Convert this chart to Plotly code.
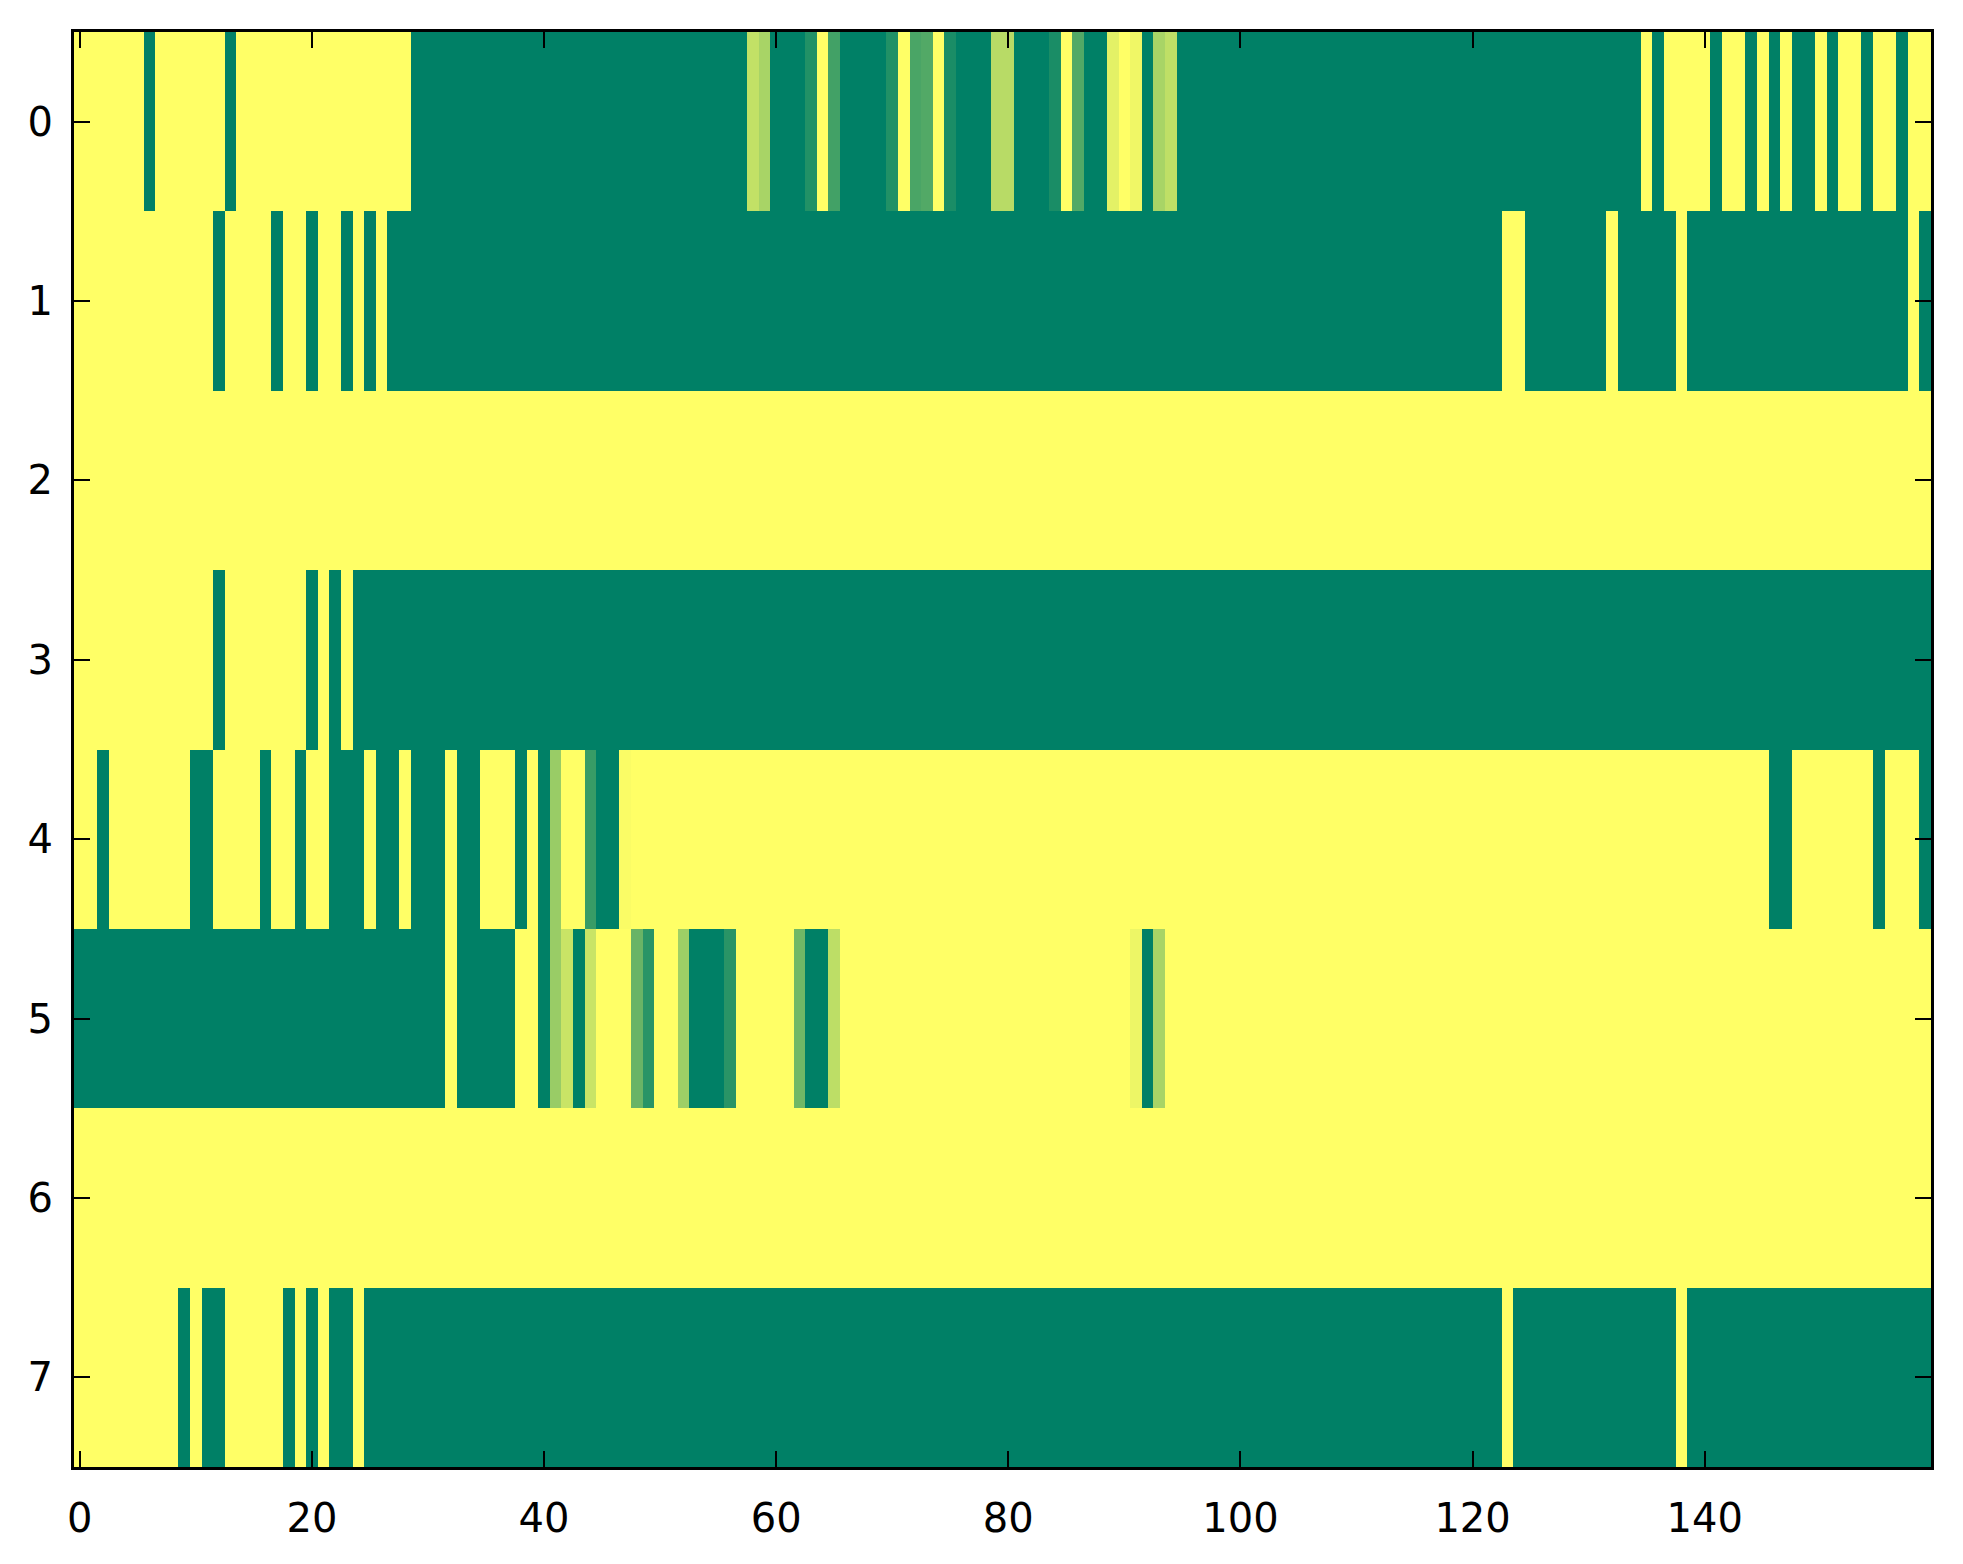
import plotly.graph_objects as go

# one list per row of the matrix, 160 columns each (0 = green, 1 = yellow)
row0 = [1, 1, 1, 1, 1, 1, 0, 1, 1, 1, 1, 1, 1, 0, 1, 1, 1, 1, 1, 1,
        1, 1, 1, 1, 1, 1, 1, 1, 1, 0, 0, 0, 0, 0, 0, 0, 0, 0, 0, 0,
        0, 0, 0, 0, 0, 0, 0, 0, 0, 0, 0, 0, 0, 0, 0, 0, 0, 0, 0.76, 0.66,
        0, 0, 0, 0.13, 1, 0.26, 0, 0, 0, 0, 0.13, 1, 0.29, 0.32, 1, 0.1, 0, 0, 0, 0.72,
        0.72, 0, 0, 0, 0.1, 1, 0.32, 0, 0, 0.89, 1, 0.94, 0, 0.66, 0.75, 0, 0, 0, 0, 0,
        0, 0, 0, 0, 0, 0, 0, 0, 0, 0, 0, 0, 0, 0, 0, 0, 0, 0, 0, 0,
        0, 0, 0, 0, 0, 0, 0, 0, 0, 0, 0, 0, 0, 0, 0, 1, 0, 1, 1, 1,
        1, 0, 1, 1, 0, 1, 0, 1, 0, 0, 1, 0, 1, 1, 0, 1, 1, 0, 1, 1]

row1 = [1, 1, 1, 1, 1, 1, 1, 1, 1, 1, 1, 1, 0, 1, 1, 1, 1, 0, 1, 1,
        0, 1, 1, 0, 1, 0, 1, 0, 0, 0, 0, 0, 0, 0, 0, 0, 0, 0, 0, 0,
        0, 0, 0, 0, 0, 0, 0, 0, 0, 0, 0, 0, 0, 0, 0, 0, 0, 0, 0, 0,
        0, 0, 0, 0, 0, 0, 0, 0, 0, 0, 0, 0, 0, 0, 0, 0, 0, 0, 0, 0,
        0, 0, 0, 0, 0, 0, 0, 0, 0, 0, 0, 0, 0, 0, 0, 0, 0, 0, 0, 0,
        0, 0, 0, 0, 0, 0, 0, 0, 0, 0, 0, 0, 0, 0, 0, 0, 0, 0, 0, 0,
        0, 0, 0, 1, 1, 0, 0, 0, 0, 0, 0, 0, 1, 0, 0, 0, 0, 0, 1, 0,
        0, 0, 0, 0, 0, 0, 0, 0, 0, 0, 0, 0, 0, 0, 0, 0, 0, 0, 1, 0]

row2 = [1] * 160

row3 = [1, 1, 1, 1, 1, 1, 1, 1, 1, 1, 1, 1, 0, 1, 1, 1, 1, 1, 1, 1,
        0, 1, 0, 1, 0, 0, 0, 0, 0, 0, 0, 0, 0, 0, 0, 0, 0, 0, 0, 0,
        0, 0, 0, 0, 0, 0, 0, 0, 0, 0, 0, 0, 0, 0, 0, 0, 0, 0, 0, 0,
        0, 0, 0, 0, 0, 0, 0, 0, 0, 0, 0, 0, 0, 0, 0, 0, 0, 0, 0, 0,
        0, 0, 0, 0, 0, 0, 0, 0, 0, 0, 0, 0, 0, 0, 0, 0, 0, 0, 0, 0,
        0, 0, 0, 0, 0, 0, 0, 0, 0, 0, 0, 0, 0, 0, 0, 0, 0, 0, 0, 0,
        0, 0, 0, 0, 0, 0, 0, 0, 0, 0, 0, 0, 0, 0, 0, 0, 0, 0, 0, 0,
        0, 0, 0, 0, 0, 0, 0, 0, 0, 0, 0, 0, 0, 0, 0, 0, 0, 0, 0, 0]

row4 = [1, 1, 0, 1, 1, 1, 1, 1, 1, 1, 0, 0, 1, 1, 1, 1, 0, 1, 1, 0,
        1, 1, 0, 0, 0, 1, 0, 0, 1, 0, 0, 0, 1, 0, 0, 1, 1, 1, 0, 1,
        0, 0.6, 1, 1, 0.22, 0, 0, 0.98, 1, 1, 1, 1, 1, 1, 1, 1, 1, 1, 1, 1,
        1, 1, 1, 1, 1, 1, 1, 1, 1, 1, 1, 1, 1, 1, 1, 1, 1, 1, 1, 1,
        1, 1, 1, 1, 1, 1, 1, 1, 1, 1, 1, 1, 1, 1, 1, 1, 1, 1, 1, 1,
        1, 1, 1, 1, 1, 1, 1, 1, 1, 1, 1, 1, 1, 1, 1, 1, 1, 1, 1, 1,
        1, 1, 1, 1, 1, 1, 1, 1, 1, 1, 1, 1, 1, 1, 1, 1, 1, 1, 1, 1,
        1, 1, 1, 1, 1, 1, 0, 0, 1, 1, 1, 1, 1, 1, 1, 0, 1, 1, 1, 0]

row5 = [0, 0, 0, 0, 0, 0, 0, 0, 0, 0, 0, 0, 0, 0, 0, 0, 0, 0, 0, 0,
        0, 0, 0, 0, 0, 0, 0, 0, 0, 0, 0, 0, 1, 0, 0, 0, 0, 0, 1, 1,
        0, 0.6, 0.79, 0, 0.79, 1, 1, 1, 0.41, 0.16, 1, 1, 0.62, 0, 0, 0, 0.16, 1, 1, 1,
        1, 1, 0.44, 0, 0, 0.74, 1, 1, 1, 1, 1, 1, 1, 1, 1, 1, 1, 1, 1, 1,
        1, 1, 1, 1, 1, 1, 1, 1, 1, 1, 1, 0.93, 0, 0.66, 1, 1, 1, 1, 1, 1,
        1, 1, 1, 1, 1, 1, 1, 1, 1, 1, 1, 1, 1, 1, 1, 1, 1, 1, 1, 1,
        1, 1, 1, 1, 1, 1, 1, 1, 1, 1, 1, 1, 1, 1, 1, 1, 1, 1, 1, 1,
        1, 1, 1, 1, 1, 1, 1, 1, 1, 1, 1, 1, 1, 1, 1, 1, 1, 1, 1, 1]

row6 = [1] * 160

row7 = [1, 1, 1, 1, 1, 1, 1, 1, 1, 0, 1, 0, 0, 1, 1, 1, 1, 1, 0, 1,
        0, 1, 0, 0, 1, 0, 0, 0, 0, 0, 0, 0, 0, 0, 0, 0, 0, 0, 0, 0,
        0, 0, 0, 0, 0, 0, 0, 0, 0, 0, 0, 0, 0, 0, 0, 0, 0, 0, 0, 0,
        0, 0, 0, 0, 0, 0, 0, 0, 0, 0, 0, 0, 0, 0, 0, 0, 0, 0, 0, 0,
        0, 0, 0, 0, 0, 0, 0, 0, 0, 0, 0, 0, 0, 0, 0, 0, 0, 0, 0, 0,
        0, 0, 0, 0, 0, 0, 0, 0, 0, 0, 0, 0, 0, 0, 0, 0, 0, 0, 0, 0,
        0, 0, 0, 1, 0, 0, 0, 0, 0, 0, 0, 0, 0, 0, 0, 0, 0, 0, 1, 0,
        0, 0, 0, 0, 0, 0, 0, 0, 0, 0, 0, 0, 0, 0, 0, 0, 0, 0, 0, 0]

rows = [row0, row1, row2, row3, row4, row5, row6, row7]
cols = list(range(160))
row_ids = list(range(8))
xticks = [0, 20, 40, 60, 80, 100, 120, 140]

# matplotlib "summer": green -> yellow
summer = [[0.0, "rgb(0,128,102)"], [1.0, "rgb(255,255,102)"]]

fig = go.Figure(go.Heatmap(
    z=rows, x=cols, y=row_ids,
    colorscale=summer, zmin=0, zmax=1,
    showscale=False, xgap=0, ygap=0,
))

axis_style = dict(
    showline=True, linecolor="black", linewidth=3, mirror="allticks",
    ticks="inside", ticklen=16, tickwidth=1.5, tickcolor="black",
    showgrid=False, zeroline=False,
    tickfont=dict(family="DejaVu Sans", size=40, color="black"),
)

fig.update_xaxes(range=[-0.5, 159.5], tickvals=xticks, ticklabelstandoff=14, **axis_style)
fig.update_yaxes(range=[7.5, -0.5], tickvals=row_ids, ticklabelstandoff=10, **axis_style)

# the page body adds an 8px offset, so the margins are trimmed to match
fig.update_layout(
    width=1955, height=1556,
    margin=dict(l=66, r=32, t=24, b=97),
    paper_bgcolor="white", plot_bgcolor="white",
)

fig.write_html("out.html")
